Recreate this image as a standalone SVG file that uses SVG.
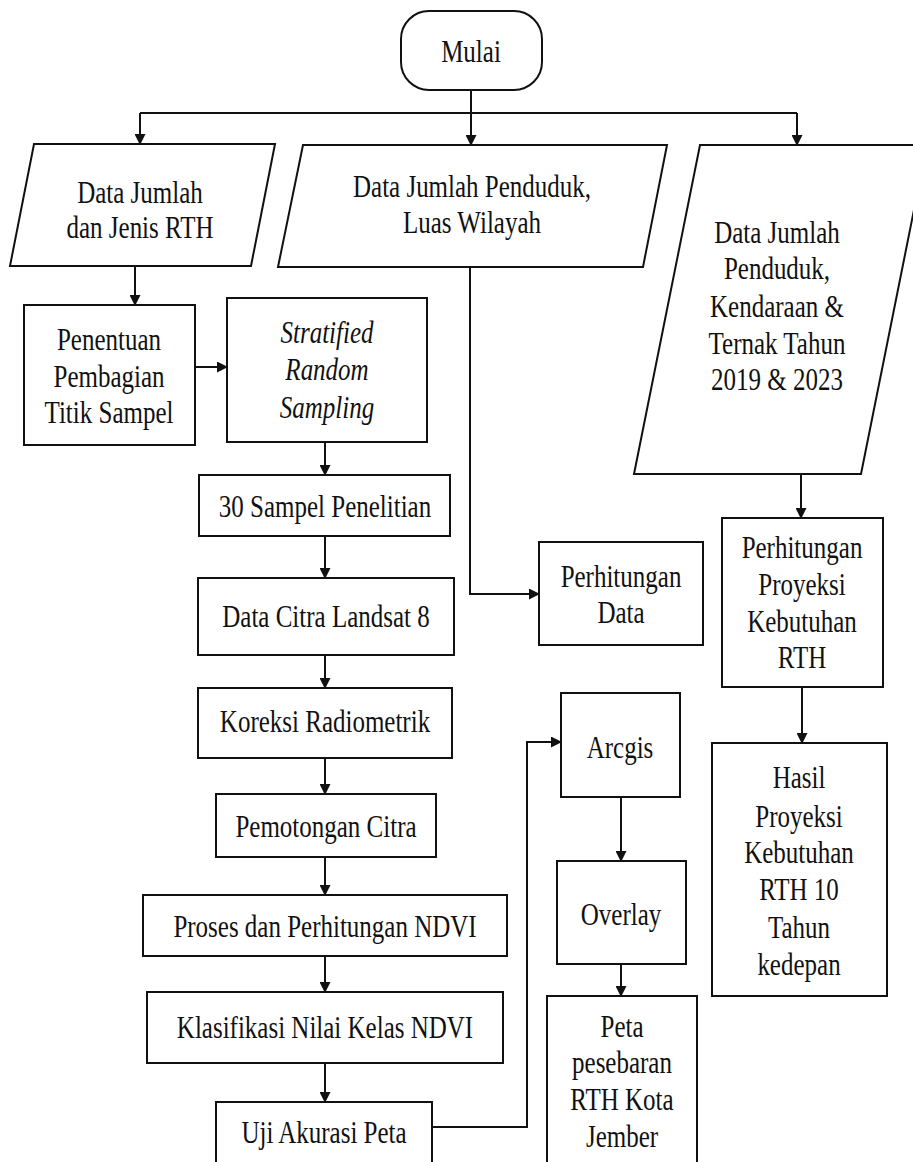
<svg xmlns="http://www.w3.org/2000/svg" width="913" height="1162" viewBox="0 0 913 1162">
<style>
.s{fill:#fff;stroke:#111;stroke-width:2}
.c{fill:none;stroke:#111;stroke-width:2}
text{font-size:25px;fill:#111;text-anchor:middle}
.i{font-style:italic}
</style>
<defs>
<marker id="ah" markerWidth="11" markerHeight="11" refX="10" refY="5.5" orient="auto" markerUnits="userSpaceOnUse">
<path d="M0,0 L11,5.5 L0,11 Z" fill="#111"/>
</marker>
</defs>
<rect width="913" height="1162" fill="#fff"/>
<g id="connectors">
<path class="c" d="M471,90 V113"/>
<path class="c" d="M140,113 H797"/>
<path class="c" d="M140,113 V144" marker-end="url(#ah)"/>
<path class="c" d="M471,113 V145" marker-end="url(#ah)"/>
<path class="c" d="M797,113 V145" marker-end="url(#ah)"/>
<path class="c" d="M135,266 V305" marker-end="url(#ah)"/>
<path class="c" d="M195,367 H227" marker-end="url(#ah)"/>
<path class="c" d="M325,442 V475" marker-end="url(#ah)"/>
<path class="c" d="M325,536 V578" marker-end="url(#ah)"/>
<path class="c" d="M325,655 V688" marker-end="url(#ah)"/>
<path class="c" d="M325,758 V794" marker-end="url(#ah)"/>
<path class="c" d="M325,857 V895" marker-end="url(#ah)"/>
<path class="c" d="M325,956 V992" marker-end="url(#ah)"/>
<path class="c" d="M325,1063 V1102" marker-end="url(#ah)"/>
<path class="c" d="M432,1127 H527 V742 H561" marker-end="url(#ah)"/>
<path class="c" d="M470,267 V594 H539" marker-end="url(#ah)"/>
<path class="c" d="M801,474 V518" marker-end="url(#ah)"/>
<path class="c" d="M802,687 V743" marker-end="url(#ah)"/>
<path class="c" d="M621,797 V861" marker-end="url(#ah)"/>
<path class="c" d="M621,964 V996" marker-end="url(#ah)"/>
</g>
<g font-family="'Liberation Serif', 'Times New Roman', 'DejaVu Serif', serif">
<g id="mulai">
<rect class="s" x="401" y="11" width="141" height="79" rx="28" ry="28"/>
<text transform="translate(471,62) scale(1,1.25)">Mulai</text>
</g>
<g id="data-rth">
<polygon class="s" points="34,144 275,144 251,266 10,266"/>
<text transform="translate(140,203) scale(1,1.25)">Data Jumlah</text>
<text transform="translate(140,238) scale(1,1.25)">dan Jenis RTH</text>
</g>
<g id="data-penduduk">
<polygon class="s" points="303,145 667,145 643,267 278,267"/>
<text transform="translate(472,197) scale(1,1.25)">Data Jumlah Penduduk,</text>
<text transform="translate(472,233) scale(1,1.25)">Luas Wilayah</text>
</g>
<g id="data-kendaraan">
<polygon class="s" points="700,145 927,145 861,474 634,474"/>
<text transform="translate(777,243) scale(1,1.25)">Data Jumlah</text>
<text transform="translate(777,279) scale(1,1.25)">Penduduk,</text>
<text transform="translate(777,317) scale(1,1.25)">Kendaraan &amp;</text>
<text transform="translate(777,354) scale(1,1.25)">Ternak Tahun</text>
<text transform="translate(777,390) scale(1,1.25)">2019 &amp; 2023</text>
</g>
<g id="penentuan">
<rect class="s" x="24" y="305" width="171" height="140"/>
<text transform="translate(109,350) scale(1,1.25)">Penentuan</text>
<text transform="translate(109,387) scale(1,1.25)">Pembagian</text>
<text transform="translate(109,423) scale(1,1.25)">Titik Sampel</text>
</g>
<g id="stratified">
<rect class="s" x="227" y="298" width="200" height="144"/>
<text class="i" transform="translate(327,343) scale(1,1.25)">Stratified</text>
<text class="i" transform="translate(327,380) scale(1,1.25)">Random</text>
<text class="i" transform="translate(327,418) scale(1,1.25)">Sampling</text>
</g>
<g id="sampel">
<rect class="s" x="199" y="475" width="251" height="61"/>
<text transform="translate(325,517) scale(1,1.25)">30 Sampel Penelitian</text>
</g>
<g id="landsat">
<rect class="s" x="198" y="578" width="256" height="77"/>
<text transform="translate(326,627) scale(1,1.25)">Data Citra Landsat 8</text>
</g>
<g id="koreksi">
<rect class="s" x="198" y="688" width="254" height="70"/>
<text transform="translate(325,732) scale(1,1.25)">Koreksi Radiometrik</text>
</g>
<g id="pemotongan">
<rect class="s" x="216" y="794" width="220" height="63"/>
<text transform="translate(326,837) scale(1,1.25)">Pemotongan Citra</text>
</g>
<g id="ndvi">
<rect class="s" x="143" y="895" width="364" height="61"/>
<text transform="translate(325,937) scale(1,1.25)">Proses dan Perhitungan NDVI</text>
</g>
<g id="klasifikasi">
<rect class="s" x="147" y="992" width="356" height="71"/>
<text transform="translate(325,1038) scale(1,1.25)">Klasifikasi Nilai Kelas NDVI</text>
</g>
<g id="uji">
<rect class="s" x="216" y="1102" width="216" height="80"/>
<text transform="translate(324,1143) scale(1,1.25)">Uji Akurasi Peta</text>
</g>
<g id="perhitungan-data">
<rect class="s" x="539" y="542" width="164" height="103"/>
<text transform="translate(621,587) scale(1,1.25)">Perhitungan</text>
<text transform="translate(621,623) scale(1,1.25)">Data</text>
</g>
<g id="proyeksi">
<rect class="s" x="722" y="518" width="161" height="169"/>
<text transform="translate(802,558) scale(1,1.25)">Perhitungan</text>
<text transform="translate(802,595) scale(1,1.25)">Proyeksi</text>
<text transform="translate(802,632) scale(1,1.25)">Kebutuhan</text>
<text transform="translate(802,668) scale(1,1.25)">RTH</text>
</g>
<g id="arcgis">
<rect class="s" x="561" y="693" width="119" height="104"/>
<text transform="translate(620,758) scale(1,1.25)">Arcgis</text>
</g>
<g id="overlay">
<rect class="s" x="557" y="861" width="129" height="103"/>
<text transform="translate(621,925) scale(1,1.25)">Overlay</text>
</g>
<g id="peta">
<rect class="s" x="547" y="996" width="150" height="200"/>
<text transform="translate(622,1037) scale(1,1.25)">Peta</text>
<text transform="translate(622,1073) scale(1,1.25)">pesebaran</text>
<text transform="translate(622,1110) scale(1,1.25)">RTH Kota</text>
<text transform="translate(622,1147) scale(1,1.25)">Jember</text>
</g>
<g id="hasil">
<rect class="s" x="712" y="743" width="175" height="253"/>
<text transform="translate(799,788) scale(1,1.25)">Hasil</text>
<text transform="translate(799,827) scale(1,1.25)">Proyeksi</text>
<text transform="translate(799,863) scale(1,1.25)">Kebutuhan</text>
<text transform="translate(799,900) scale(1,1.25)">RTH 10</text>
<text transform="translate(799,938) scale(1,1.25)">Tahun</text>
<text transform="translate(799,975) scale(1,1.25)">kedepan</text>
</g>
</g>
</svg>
